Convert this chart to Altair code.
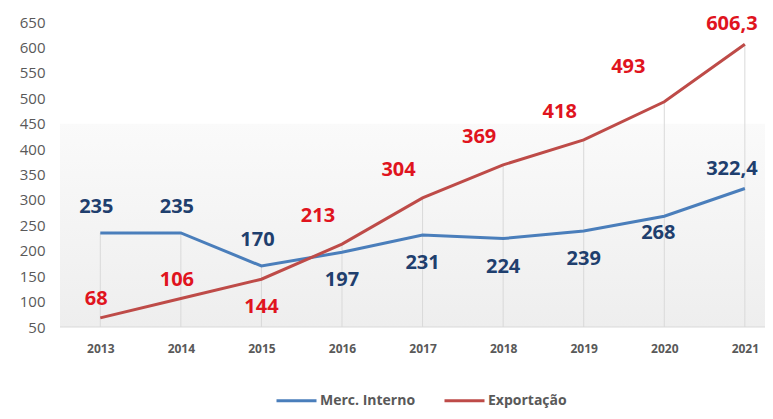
import altair as alt
import pandas as pd

years = [2013, 2014, 2015, 2016, 2017, 2018, 2019, 2020, 2021]
merc_interno = [235, 235, 170, 197, 231, 224, 239, 268, 322.4]
exportacao = [68, 106, 144, 213, 304, 369, 418, 493, 606.3]
merc_labels = ["235", "235", "170", "197", "231", "224", "239", "268", "322,4"]
exp_labels = ["68", "106", "144", "213", "304", "369", "418", "493", "606,3"]
merc_place = ["above", "above", "above", "below", "below", "below", "below", "below_near", "above_end"]
exp_place = ["above_near", "above_near", "below", "above_left", "above_left", "above_left", "above_left",
             "far_left", "above_end"]
series = ["Merc. Interno", "Exportação"]
y_ticks = list(range(50, 651, 50))

# label placement -> pixel offset (dx, dy)
OFFSETS = {
    "above": (-4, -26),
    "above_near": (-4, -19),
    "below": (0, 28),
    "below_near": (-6, 17),
    "above_left": (-24, -28),
    "far_left": (-36, -35),
    "above_end": (-13, -20),
}

rows = []
for i, yr in enumerate(years):
    rows.append({"ano": yr, "serie": series[0], "valor": merc_interno[i], "rotulo": merc_labels[i], "pos": merc_place[i]})
    rows.append({"ano": yr, "serie": series[1], "valor": exportacao[i], "rotulo": exp_labels[i], "pos": exp_place[i]})
df = pd.DataFrame(rows)
drop = pd.DataFrame({"ano": years, "top": [max(a, b) for a, b in zip(merc_interno, exportacao)]})

W, H = 705, 305
FONT = "Open Sans"
BLUE_LINE = "#4A7EBB"
RED_LINE = "#BE4B48"
BLUE_TXT = "#1F3F6E"
RED_TXT = "#E0141E"

xscale = alt.Scale(domain=[2012.5, 2021.25], nice=False, zero=False)
yscale = alt.Scale(domain=[50, 650], nice=False, zero=False)
xaxis = alt.Axis(values=years, format="d", title=None, domain=False, ticks=False, grid=False,
                 labelFont=FONT, labelFontSize=12, labelFontWeight="bold", labelColor="#595959",
                 labelPadding=16, labelOverlap=False)
yaxis = alt.Axis(values=y_ticks, title=None, domain=False, ticks=False, grid=False,
                 labelFont=FONT, labelFontSize=15, labelColor="#595959", labelPadding=15,
                 labelOverlap=False)

bg = alt.Chart(pd.DataFrame({"a": [0]})).mark_rect(
    color=alt.Gradient(gradient="linear", x1=0, y1=0, x2=0, y2=1,
                       stops=[alt.GradientStop(color="#fafafa", offset=0),
                              alt.GradientStop(color="#eeeeee", offset=1)])
).encode(
    x=alt.value(0), x2=alt.value(W),
    y=alt.datum(450, scale=yscale, axis=yaxis), y2=alt.datum(50)
)

base_line = alt.Chart(pd.DataFrame({"a": [0]})).mark_rule(color="#d9d9d9", strokeWidth=1).encode(
    x=alt.value(0), x2=alt.value(W), y=alt.datum(50, scale=yscale, axis=yaxis)
)

drops = alt.Chart(drop).mark_rule(color="#d9d9d9", strokeWidth=1).encode(
    x=alt.X("ano:Q", scale=xscale, axis=xaxis),
    y=alt.Y("top:Q", scale=yscale, axis=yaxis),
    y2=alt.datum(50),
)

lines = alt.Chart(df).mark_line(strokeWidth=3, interpolate="linear").encode(
    x=alt.X("ano:Q", scale=xscale, axis=xaxis),
    y=alt.Y("valor:Q", scale=yscale, axis=yaxis),
    color=alt.Color("serie:N", scale=alt.Scale(domain=series, range=[BLUE_LINE, RED_LINE]),
                    legend=alt.Legend(title=None, orient="none", direction="horizontal",
                                      legendX=215, legendY=357, symbolType="stroke", symbolSize=1600,
                                      symbolStrokeWidth=3, labelFont=FONT, labelFontSize=14,
                                      labelFontWeight="bold", labelColor="#595959", columnPadding=22,
                                      labelOffset=2)),
)


def labels(pos):
    dx, dy = OFFSETS[pos]
    return alt.Chart(df).transform_filter(alt.datum.pos == pos).mark_text(
        font=FONT, fontSize=20, fontWeight="bold", dx=dx, dy=dy
    ).encode(
        x=alt.X("ano:Q", scale=xscale, axis=xaxis),
        y=alt.Y("valor:Q", scale=yscale, axis=yaxis),
        text="rotulo:N",
        color=alt.Color("serie:N", scale=alt.Scale(domain=series, range=[BLUE_TXT, RED_TXT]), legend=None),
    )


chart = alt.layer(
    bg, base_line, drops, lines, *[labels(p) for p in OFFSETS]
).resolve_scale(color="independent").properties(
    width=W, height=H,
    autosize=alt.AutoSizeParams(type="none"),
    padding={"left": 52, "top": 14, "right": 0, "bottom": 84},
).configure_view(stroke=None).configure_axis(labelOverlap=False)

chart.save("out.html", embed_options={"renderer": "svg", "actions": False})
